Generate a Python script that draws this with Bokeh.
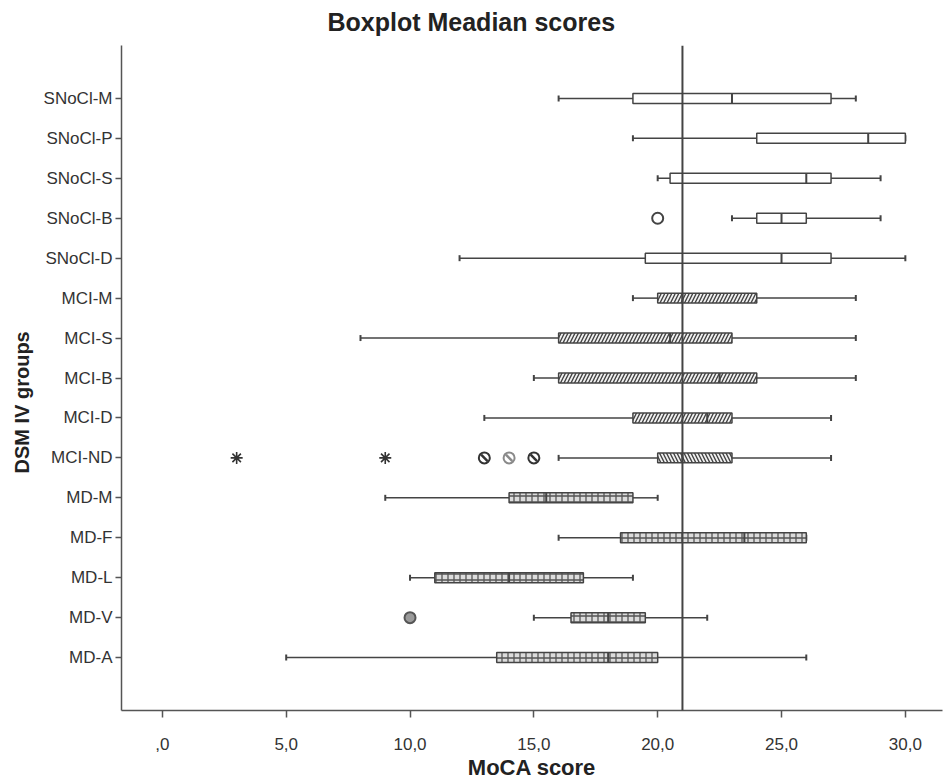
import math
from bokeh.plotting import figure
from bokeh.models import FactorRange, Range1d, FixedTicker, Span, Title
from bokeh.embed import file_html
from bokeh.resources import INLINE

# ---------------- data ----------------
groups = ["SNoCl-M", "SNoCl-P", "SNoCl-S", "SNoCl-B", "SNoCl-D",
          "MCI-M", "MCI-S", "MCI-B", "MCI-D", "MCI-ND",
          "MD-M", "MD-F", "MD-L", "MD-V", "MD-A"]
whisker_low = [16, 19, 20, 23, 12, 19, 8, 15, 13, 16, 9, 16, 10, 15, 5]
q1 = [19, 24, 20.5, 24, 19.5, 20, 16, 16, 19, 20, 14, 18.5, 11, 16.5, 13.5]
median = [23, 28.5, 26, 25, 25, 21, 20.5, 22.5, 22, 21, 15.5, 23.5, 14, 18, 18]
q3 = [27, 30, 27, 26, 27, 24, 23, 24, 23, 23, 19, 26, 17, 19.5, 20]
whisker_high = [28, 30, 29, 29, 30, 28, 28, 28, 27, 27, 20, 26, 19, 22, 26]

outlier_groups = ["SNoCl-B", "MCI-ND", "MCI-ND", "MCI-ND", "MD-V"]
outlier_values = [20, 13, 14, 15, 10]
extreme_groups = ["MCI-ND", "MCI-ND"]
extreme_values = [3, 9]

reference_score = 21
x_ticks = [0, 5, 10, 15, 20, 25, 30]
x_tick_labels = [",0", "5,0", "10,0", "15,0", "20,0", "25,0", "30,0"]

title_text = "Boxplot Meadian scores"
x_title = "MoCA score"
y_title = "DSM IV groups"

# ---------------- styles ----------------
FONT = "Liberation Sans"
LINE = "#444444"
TEXT = "#333333"
outlier_line_colors = ["#444444", "#333333", "#8a8a8a", "#333333", "#555555"]
outlier_fill_colors = ["white", "white", "white", "white", "#9a9a9a"]

factors = list(reversed(groups))

p = figure(width=944, height=783,
           y_range=FactorRange(factors=factors, range_padding=0.825,
                               range_padding_units="absolute"),
           x_range=Range1d(-1.65, 31.5),
           output_backend="svg", toolbar_location=None,
           min_border_left=121, min_border_right=2,
           min_border_top=45, min_border_bottom=73)

p.outline_line_color = None
p.xgrid.grid_line_color = None
p.ygrid.grid_line_color = None
p.background_fill_color = "white"
p.border_fill_color = "white"

# title
p.title.text = title_text
p.title.align = "left"
p.title.offset = 206
p.title.standoff = 15
p.title.vertical_align = "top"
p.title.text_font = FONT
p.title.text_font_size = "25px"
p.title.text_font_style = "bold"
p.title.text_color = "#222222"

# axes
xa = p.xaxis[0]
xa.ticker = FixedTicker(ticks=x_ticks)
xa.major_label_overrides = {t: l for t, l in zip(x_ticks, x_tick_labels)}
xa.minor_tick_line_color = None
xa.major_tick_in = 0
xa.major_tick_out = 7
xa.major_label_standoff = 20
xa.axis_label = x_title
xa.axis_label_standoff = 2

ya = p.yaxis[0]
ya.major_tick_in = 0
ya.major_tick_out = 6
ya.major_label_standoff = 3

for ax in (xa, ya):
    ax.axis_line_color = "#555555"
    ax.axis_line_width = 1.5
    ax.major_tick_line_color = "#555555"
    ax.major_tick_line_width = 1.5
    ax.major_label_text_font = FONT
    ax.major_label_text_font_size = "17px"
    ax.major_label_text_color = TEXT
    ax.axis_label_text_font = FONT
    ax.axis_label_text_font_size = "22px"
    ax.axis_label_text_font_style = "bold"
    ax.axis_label_text_color = "#222222"

# y axis title, placed in the left side panel
p.add_layout(Title(text=y_title, align="left", offset=237, standoff=15,
                   text_font=FONT, text_font_size="20px",
                   text_font_style="bold", text_color="#222222"), "left")

# whiskers
p.segment(x0=whisker_low, y0=groups, x1=q1, y1=groups,
          line_color=LINE, line_width=1.5)
p.segment(x0=q3, y0=groups, x1=whisker_high, y1=groups,
          line_color=LINE, line_width=1.5)
p.scatter(x=whisker_low, y=groups, marker="dash", angle=math.pi / 2,
          size=6, line_color=LINE, line_width=2)
p.scatter(x=whisker_high, y=groups, marker="dash", angle=math.pi / 2,
          size=6, line_color=LINE, line_width=2)

# boxes, by group family
def pick(prefix_test):
    idx = [i for i, g in enumerate(groups) if prefix_test(g)]
    return ([groups[i] for i in idx], [q1[i] for i in idx], [q3[i] for i in idx])

g, l, r = pick(lambda s: s.startswith("SNoCl"))
p.hbar(y=g, left=l, right=r, height=0.25, fill_color="white",
       line_color=LINE, line_width=1.5)

g, l, r = pick(lambda s: s.startswith("MCI") and s != "MCI-ND")
p.hbar(y=g, left=l, right=r, height=0.25, fill_color="#f2f2f2",
       line_color=LINE, line_width=1.5,
       hatch_pattern="/", hatch_color="#444444", hatch_scale=7, hatch_weight=1.4)

g, l, r = pick(lambda s: s == "MCI-ND")
p.hbar(y=g, left=l, right=r, height=0.25, fill_color="#f2f2f2",
       line_color=LINE, line_width=1.5,
       hatch_pattern="\\", hatch_color="#444444", hatch_scale=7, hatch_weight=1.4)

g, l, r = pick(lambda s: s.startswith("MD"))
p.hbar(y=g, left=l, right=r, height=0.25, fill_color="#dcdcdc",
       line_color=LINE, line_width=1.5,
       hatch_pattern="+", hatch_color="#555555", hatch_scale=6, hatch_weight=1.3)

# medians
p.scatter(x=median, y=groups, marker="dash", angle=math.pi / 2,
          size=10, line_color=LINE, line_width=2)

# outliers
p.scatter(x=outlier_values, y=outlier_groups, marker="circle", size=11,
          fill_color=outlier_fill_colors, line_color=outlier_line_colors,
          line_width=2)
slash_idx = [i for i, g in enumerate(outlier_groups) if g.startswith("MCI")]
p.scatter(x=[outlier_values[i] for i in slash_idx],
          y=[outlier_groups[i] for i in slash_idx],
          marker="dash", angle=-math.pi / 4, size=9,
          line_color=[outlier_line_colors[i] for i in slash_idx], line_width=2.5)
p.scatter(x=extreme_values, y=extreme_groups, marker="asterisk", size=12,
          line_color="#333333", line_width=1.6)

# reference line
p.add_layout(Span(location=reference_score, dimension="height",
                  line_color=LINE, line_width=2))

open("out.html", "w").write(file_html(p, INLINE))
